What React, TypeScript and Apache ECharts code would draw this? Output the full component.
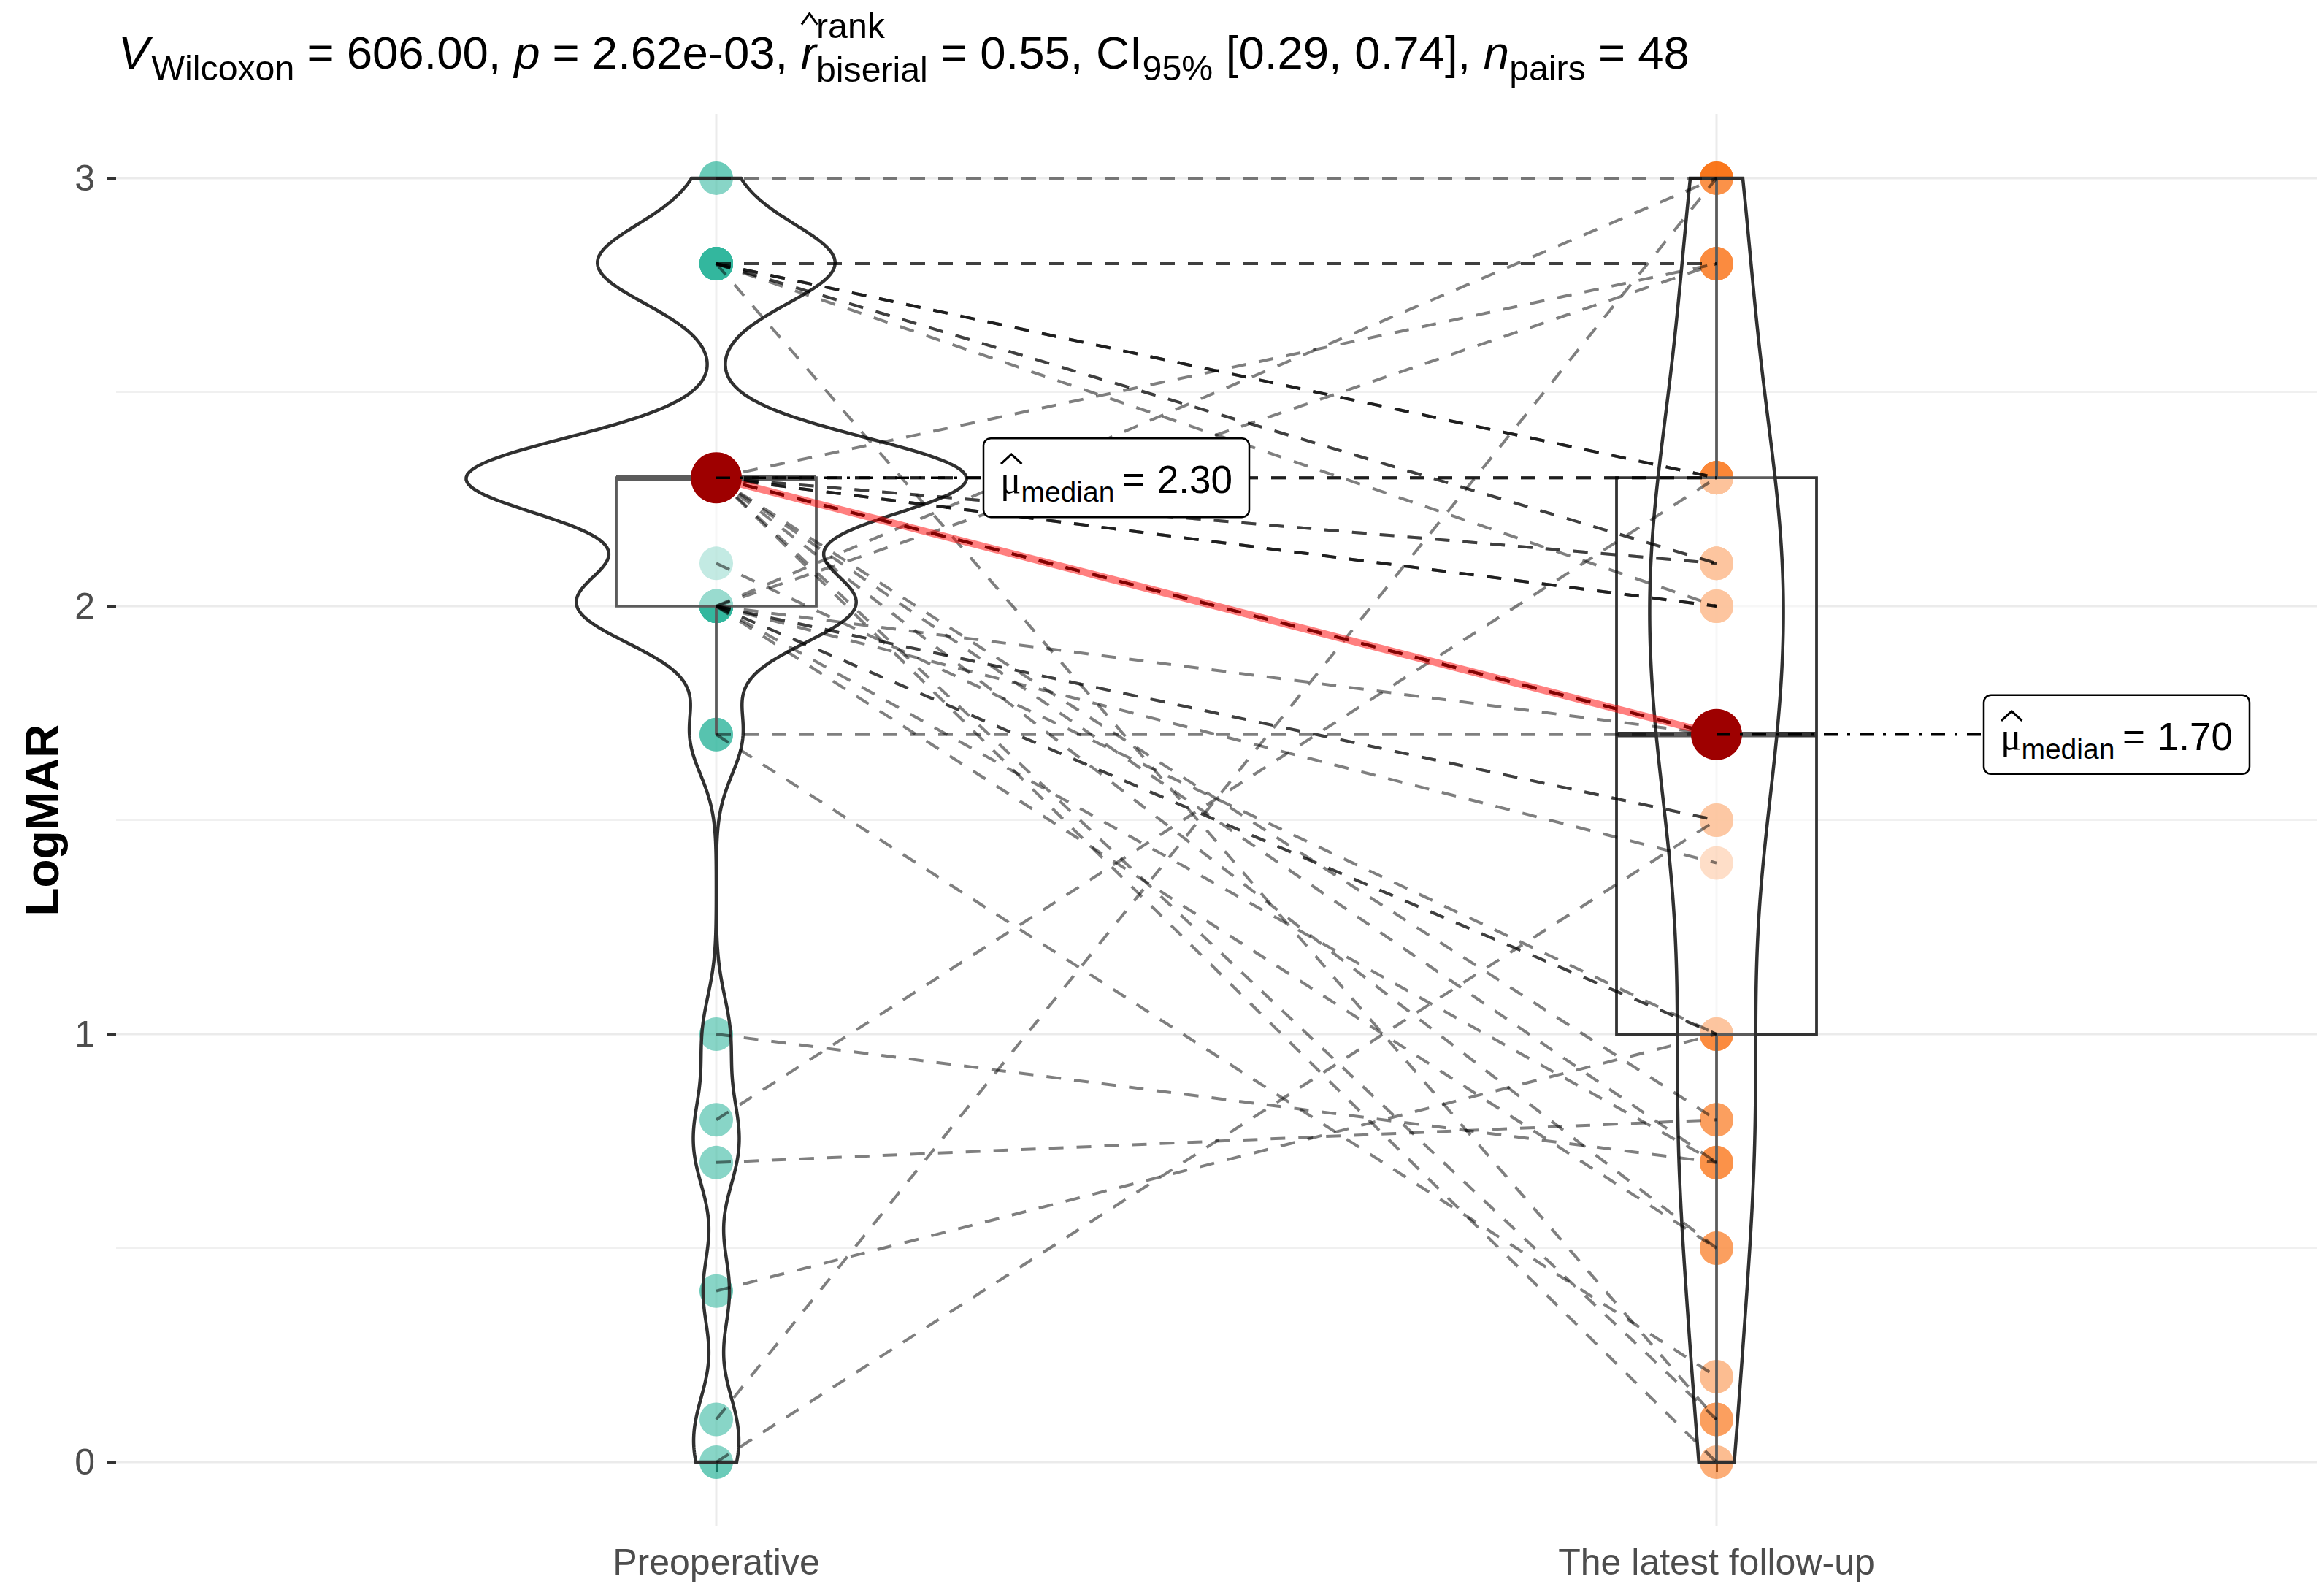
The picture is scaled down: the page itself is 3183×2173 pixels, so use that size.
import React, { useEffect, useRef } from 'react';
import * as echarts from 'echarts';

// ---------------- data ----------------
const categories = ['Preoperative', 'The latest follow-up'];
// paired observations (index i of preValues pairs with index i of postValues)
const preValues = [
  3.0,
  2.8, 2.8, 2.8, 2.8, 2.8, 2.8, 2.8, 2.8, 2.8,
  2.3, 2.3, 2.3, 2.3, 2.3, 2.3, 2.3, 2.3, 2.3, 2.3, 2.3, 2.3, 2.3, 2.3, 2.3, 2.3, 2.3, 2.3, 2.3,
  2.1,
  2.0, 2.0, 2.0, 2.0, 2.0, 2.0, 2.0, 2.0, 2.0, 2.0,
  1.7, 1.7,
  1.0, 0.8, 0.7, 0.4, 0.1, 0.0,
];
const postValues = [
  3.0,
  2.8, 2.8, 2.3, 2.3, 2.3, 2.1, 2.1, 2.0, 0.1,
  2.8, 2.3, 2.3, 2.3, 2.1, 2.1, 2.0, 2.0, 2.0, 1.7, 1.7, 1.7, 1.7, 1.7, 0.8, 0.7, 0.5, 0.1, 0.0,
  1.0,
  3.0, 2.8, 1.7, 1.5, 1.5, 1.4, 1.0, 1.0, 0.7, 0.5,
  1.7, 0.2,
  0.7, 2.3, 0.8, 1.0, 3.0, 1.5,
];
const yTickValues = [0, 1, 2, 3];
const yMajorGrid = [0, 1, 2, 3];
const yMinorGrid = [0.5, 1.5, 2.5];
const xGrid = [1, 2];
const statV = '606.00';
const statP = '2.62e-03';
const statR = '0.55';
const ciLow = '0.29';
const ciHigh = '0.74';
const nPairs = '48';

// ---------------- styling constants ----------------
const W = 3183;
const H = 2173;
const GRID = { left: 159, right: 10, top: 156, bottom: 83 };
const SANS = 'Liberation Sans';
const SERIF = 'Liberation Serif';
const TEAL = '#00A586';
const ORANGE = '#F96A05';

// ---------------- helpers ----------------
function quantile7(values: number[], p: number) {
  const s = [...values].sort((a, b) => a - b);
  const h = (s.length - 1) * p;
  const lo = Math.floor(h);
  const hi = Math.min(lo + 1, s.length - 1);
  return s[lo] + (h - lo) * (s[hi] - s[lo]);
}
function sd(values: number[]) {
  const m = values.reduce((a, b) => a + b, 0) / values.length;
  const v = values.reduce((a, b) => a + (b - m) * (b - m), 0) / (values.length - 1);
  return Math.sqrt(v);
}
function bwNrd0(values: number[]) {
  const iqr = quantile7(values, 0.75) - quantile7(values, 0.25);
  const lo = Math.min(sd(values), iqr / 1.34);
  return 0.9 * lo * Math.pow(values.length, -0.2);
}
function densityCurve(values: number[], n = 512) {
  const bw = bwNrd0(values);
  const lo = Math.min(...values);
  const hi = Math.max(...values);
  const out: number[][] = [];
  const k = 1 / (values.length * bw * Math.sqrt(2 * Math.PI));
  for (let i = 0; i < n; i++) {
    const y = lo + ((hi - lo) * i) / (n - 1);
    let s = 0;
    for (const v of values) {
      const z = (y - v) / bw;
      s += Math.exp(-0.5 * z * z);
    }
    out.push([y, s * k]);
  }
  return out;
}
function boxStats(values: number[]) {
  const q1 = quantile7(values, 0.25);
  const med = quantile7(values, 0.5);
  const q3 = quantile7(values, 0.75);
  const iqr = q3 - q1;
  const inside = values.filter((v) => v >= q1 - 1.5 * iqr && v <= q3 + 1.5 * iqr);
  return { q1, med, q3, lo: Math.min(...inside), hi: Math.max(...inside) };
}

let measureCtx: CanvasRenderingContext2D | null = null;
function tw(text: string, size: number, family: string, italic = false, bold = false) {
  if (!measureCtx) measureCtx = document.createElement('canvas').getContext('2d');
  if (!measureCtx) return text.length * size * 0.55;
  measureCtx.font = `${italic ? 'italic ' : ''}${bold ? 'bold ' : ''}${size}px "${family}"`;
  return measureCtx.measureText(text).width;
}
function txt(text: string, x: number, baseline: number, size: number, opts: any = {}) {
  return {
    type: 'text',
    x,
    y: baseline - 0.3465 * size,
    silent: true,
    style: {
      text,
      fontSize: size,
      fontFamily: opts.family || SANS,
      fontStyle: opts.italic ? 'italic' : 'normal',
      fontWeight: opts.bold ? 'bold' : 'normal',
      fill: opts.color || '#000',
      align: 'left',
      verticalAlign: 'middle',
    },
  };
}

// ---------------- title (plotmath-like) ----------------
function buildTitle() {
  const x0 = 162;
  const targetW = 2152;
  const base = 94;
  const layout = (F: number, emit: boolean) => {
    const S = F * 0.76;
    const els: any[] = [];
    let x = x0;
    const put = (t: string, size: number, dy: number, italic = false) => {
      if (emit) els.push(txt(t, x, base + dy, size, { italic }));
      x += tw(t, size, SANS, italic);
    };
    const eq = () => {
      x += 0.27 * F;
      put('=', F, 0);
      x += 0.27 * F;
    };
    const sp = () => {
      x += 0.278 * F;
    };
    const sub = 0.24 * F;
    put('V', F, 0, true);
    x += 0.05 * F;
    put('Wilcoxon', S, sub);
    eq();
    put(statV + ',', F, 0);
    sp();
    put('p', F, 0, true);
    eq();
    put(statP + ',', F, 0);
    sp();
    const rx = x;
    put('r', F, 0, true);
    if (emit) {
      const k = F / 59;
      els.push({
        type: 'polyline',
        silent: true,
        shape: { points: [[rx + 1 * k, base - 56 * k], [rx + 11 * k, base - 70 * k], [rx + 21 * k, base - 56 * k]] },
        style: { stroke: '#000', lineWidth: 3, fill: 'none' },
      });
    }
    const sx = x;
    const w1 = tw('rank', S, SANS);
    const w2 = tw('biserial', S, SANS);
    if (emit) {
      els.push(txt('rank', sx, base - 0.66 * F, S));
      els.push(txt('biserial', sx, base + 0.28 * F, S));
    }
    x = sx + Math.max(w1, w2);
    eq();
    put(statR + ',', F, 0);
    sp();
    put('CI', F, 0);
    put('95%', S, sub);
    sp();
    put(`[${ciLow}, ${ciHigh}],`, F, 0);
    sp();
    put('n', F, 0, true);
    put('pairs', S, sub);
    eq();
    put(nPairs, F, 0);
    return { width: x - x0, els };
  };
  const w0 = layout(60, false).width;
  const F = (60 * targetW) / w0;
  return layout(F, true).els;
}

// ---------------- component ----------------
export default function App() {
  const ref = useRef<HTMLDivElement>(null);

  useEffect(() => {
    if (!ref.current) return;
    const chart = echarts.init(ref.current, undefined, { renderer: 'svg' });

    const groups = [preValues, postValues];
    const curves = groups.map((g) => densityCurve(g));
    const maxD = Math.max(...curves.map((c) => Math.max(...c.map((p) => p[1]))));
    const boxes = groups.map((g) => boxStats(g));
    const medians = boxes.map((b) => b.med);

    const gridData = [
      ...yMajorGrid.map((v) => [0, v, 0]),
      ...yMinorGrid.map((v) => [0, v, 1]),
      ...xGrid.map((v) => [1, v, 0]),
    ];

    const option: any = {
      animation: false,
      backgroundColor: '#ffffff',
      grid: { ...GRID, containLabel: false },
      xAxis: {
        type: 'value',
        min: 0.4,
        max: 2.6,
        axisLine: { show: false },
        splitLine: { show: false },
        axisTick: { show: true, customValues: [1, 2], length: 13, lineStyle: { color: '#333333', width: 3 } },
        axisLabel: {
          customValues: [1, 2],
          formatter: (v: number) => categories[Math.round(v) - 1] || '',
          fontSize: 50,
          color: '#4D4D4D',
          fontFamily: SANS,
          margin: 24,
        },
      },
      yAxis: {
        type: 'value',
        min: -0.15,
        max: 3.15,
        axisLine: { show: false },
        splitLine: { show: false },
        axisTick: { show: true, customValues: yTickValues, length: 13, lineStyle: { color: '#333333', width: 3 } },
        axisLabel: {
          customValues: yTickValues,
          formatter: (v: number) => String(v),
          fontSize: 50,
          color: '#4D4D4D',
          fontFamily: SANS,
          margin: 29,
        },
      },
      graphic: {
        elements: [
          ...buildTitle(),
          {
            type: 'text',
            x: 58,
            y: 1123,
            rotation: Math.PI / 2,
            silent: true,
            style: {
              text: 'LogMAR',
              fontSize: 64,
              fontWeight: 'bold',
              fontFamily: SANS,
              fill: '#000',
              align: 'center',
              verticalAlign: 'middle',
            },
          },
        ],
      },
      series: [
        // grid lines
        {
          type: 'custom',
          z: 0,
          silent: true,
          clip: false,
          data: gridData,
          renderItem: (params: any, api: any) => {
            const dir = api.value(0);
            const v = api.value(1);
            const minor = api.value(2);
            if (dir === 0) {
              const a = api.coord([0.4, v]);
              const b = api.coord([2.6, v]);
              return {
                type: 'line',
                shape: { x1: a[0], y1: a[1], x2: b[0], y2: b[1] },
                style: { stroke: minor ? '#F0F0F0' : '#EBEBEB', lineWidth: minor ? 2 : 3 },
              };
            }
            const a = api.coord([v, -0.15]);
            const b = api.coord([v, 3.15]);
            return {
              type: 'line',
              shape: { x1: a[0], y1: a[1], x2: b[0], y2: b[1] },
              style: { stroke: '#EBEBEB', lineWidth: 3 },
            };
          },
        },
        // raw points
        {
          type: 'scatter',
          z: 1,
          silent: true,
          symbolSize: 46,
          data: preValues.map((v) => [1, v]),
          itemStyle: { color: TEAL, opacity: 0.58 },
        },
        {
          type: 'scatter',
          z: 1,
          silent: true,
          symbolSize: 46,
          data: postValues.map((v) => [2, v]),
          itemStyle: { color: ORANGE, opacity: 0.55 },
        },
        // boxplots
        {
          type: 'custom',
          z: 2,
          silent: true,
          clip: false,
          data: boxes.map((b, i) => [i + 1, b.q1, b.med, b.q3, b.lo, b.hi]),
          renderItem: (params: any, api: any) => {
            const gx = api.value(0);
            const q1 = api.value(1), med = api.value(2), q3 = api.value(3), lo = api.value(4), hi = api.value(5);
            const tl = api.coord([gx - 0.1, q3]);
            const br = api.coord([gx + 0.1, q1]);
            const cHi = api.coord([gx, hi]);
            const cQ3 = api.coord([gx, q3]);
            const cQ1 = api.coord([gx, q1]);
            const cLo = api.coord([gx, lo]);
            const mL = api.coord([gx - 0.1, med]);
            const mR = api.coord([gx + 0.1, med]);
            const st = { stroke: '#333333', lineWidth: 3.8 };
            return {
              type: 'group',
              children: [
                { type: 'line', shape: { x1: cQ3[0], y1: cQ3[1], x2: cHi[0], y2: cHi[1] }, style: st },
                { type: 'line', shape: { x1: cQ1[0], y1: cQ1[1], x2: cLo[0], y2: cLo[1] }, style: st },
                {
                  type: 'rect',
                  shape: { x: tl[0], y: tl[1], width: br[0] - tl[0], height: br[1] - tl[1] },
                  style: { fill: 'rgba(255,255,255,0.5)', stroke: '#333333', lineWidth: 3.8 },
                },
                { type: 'line', shape: { x1: mL[0], y1: mL[1], x2: mR[0], y2: mR[1] }, style: { stroke: '#333333', lineWidth: 7.5 } },
              ],
            };
          },
        },
        // violins
        {
          type: 'custom',
          z: 3,
          silent: true,
          clip: false,
          data: [[1, 0], [2, 1]],
          renderItem: (params: any, api: any) => {
            const gx = api.value(0);
            const idx = api.value(1);
            const curve = curves[idx];
            const right = curve.map(([y, d]) => api.coord([gx + (d / maxD) * 0.25, y]));
            const left = curve.map(([y, d]) => api.coord([gx - (d / maxD) * 0.25, y])).reverse();
            return {
              type: 'polygon',
              shape: { points: [...right, ...left] },
              style: { fill: 'rgba(255,255,255,0.2)', stroke: '#303030', lineWidth: 4.5 },
            };
          },
        },
        // paired dashed paths
        {
          type: 'custom',
          z: 4,
          silent: true,
          clip: false,
          data: preValues.map((v, i) => [v, postValues[i]]),
          renderItem: (params: any, api: any) => {
            const a = api.coord([1, api.value(0)]);
            const b = api.coord([2, api.value(1)]);
            return {
              type: 'line',
              shape: { x1: a[0], y1: a[1], x2: b[0], y2: b[1] },
              style: { stroke: 'rgba(0,0,0,0.5)', lineWidth: 4, lineDash: [20, 18] },
            };
          },
        },
        // median path
        {
          type: 'line',
          z: 5,
          silent: true,
          symbol: 'none',
          data: medians.map((m, i) => [i + 1, m]),
          lineStyle: { color: 'rgba(255,0,0,0.5)', width: 10 },
        },
        // median points
        {
          type: 'scatter',
          z: 6,
          silent: true,
          symbolSize: 70,
          data: medians.map((m, i) => [i + 1, m]),
          itemStyle: { color: '#9E0000', opacity: 1 },
        },
        // median labels
        {
          type: 'custom',
          z: 7,
          silent: true,
          clip: false,
          data: medians.map((m, i) => [i + 1.4, m, i + 1, i]),
          renderItem: (params: any, api: any) => {
            const lx = api.value(0), ly = api.value(1), gx = api.value(2), idx = api.value(3);
            const valText = medians[idx].toFixed(2);
            const c = api.coord([lx, ly]);
            const p = api.coord([gx, ly]);
            const L = 53, Ls = 39;
            const wMu = tw('μ', L, SERIF);
            const wMed = tw('median', Ls, SANS);
            const wEq = tw('=', L, SANS);
            const wVal = tw(valText, L, SANS);
            const g1 = 0.2 * L, g2 = 0.32 * L;
            const content = wMu + wMed + g1 + wEq + g2 + wVal;
            const bw = content + 46;
            const bh = 108;
            const left = c[0] - bw / 2;
            const top = c[1] - bh / 2;
            let x = left + 23;
            const base = c[1] + 21;
            const kids: any[] = [
              {
                type: 'line',
                shape: { x1: p[0], y1: p[1], x2: left, y2: c[1] },
                style: { stroke: '#000', lineWidth: 3.5, lineDash: [19, 13, 4, 13] },
              },
              {
                type: 'rect',
                shape: { x: left, y: top, width: bw, height: bh, r: 10 },
                style: { fill: '#ffffff', stroke: '#000', lineWidth: 2.5 },
              },
            ];
            kids.push(txt('μ', x, base, L, { family: SERIF }));
            kids.push({
              type: 'polyline',
              shape: { points: [[x + 1, c[1] - 19], [x + wMu / 2 + 1, c[1] - 32], [x + wMu + 1, c[1] - 19]] },
              style: { stroke: '#000', lineWidth: 3, fill: 'none' },
            });
            x += wMu;
            kids.push(txt('median', x, c[1] + 33, Ls));
            x += wMed + g1;
            kids.push(txt('=', x, base, L));
            x += wEq + g2;
            kids.push(txt(valText, x, base, L));
            return { type: 'group', children: kids };
          },
        },
      ],
    };

    chart.setOption(option);
    return () => chart.dispose();
  }, []);

  return <div ref={ref} style={{ position: 'fixed', left: 0, top: 0, width: W, height: H }} />;
}
